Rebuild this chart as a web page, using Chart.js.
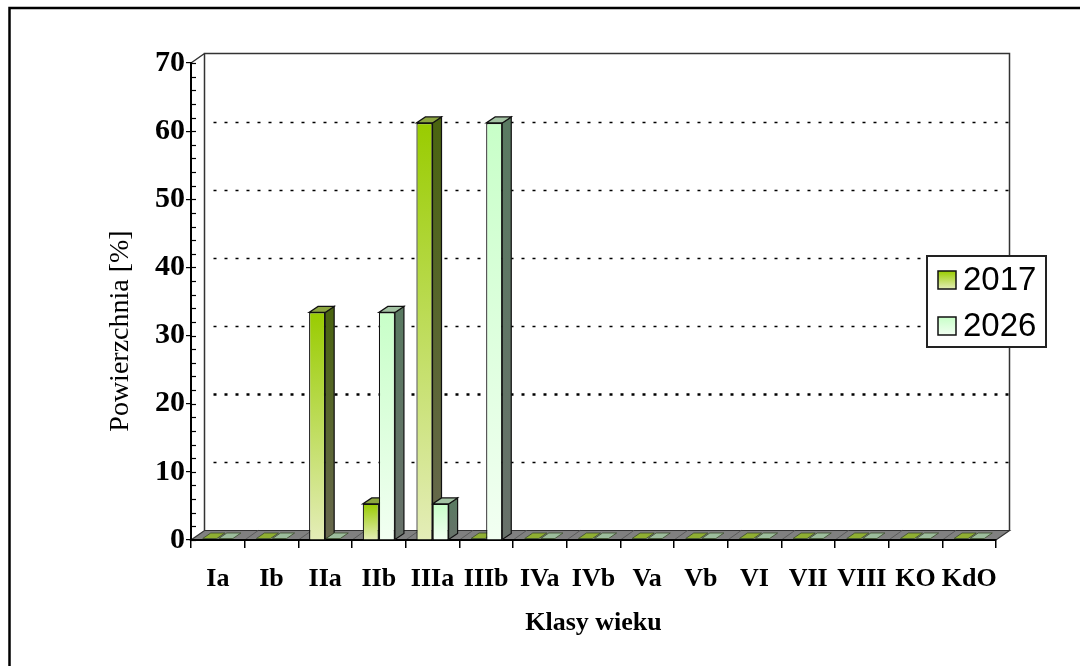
<!DOCTYPE html>
<html>
<head>
<meta charset="utf-8">
<script src="https://cdn.jsdelivr.net/npm/chart.js@4.4.0/dist/chart.umd.min.js"></script>
<style>
  html, body { margin: 0; padding: 0; background: #fff; }
  #wrap { width: 1080px; height: 666px; position: relative; }
</style>
</head>
<body>
<div id="wrap"><canvas id="c" width="1080" height="666"></canvas></div>
<script>
// Udział powierzchni klas wieku [%]
const categories = ['Ia', 'Ib', 'IIa', 'IIb', 'IIIa', 'IIIb', 'IVa', 'IVb', 'Va', 'Vb', 'VI', 'VII', 'VIII', 'KO', 'KdO'];
const values2017 = [0, 0, 33.4, 5.3, 61.2, 0, 0, 0, 0, 0, 0, 0, 0, 0, 0];
const values2026 = [0, 0, 0, 33.4, 5.3, 61.2, 0, 0, 0, 0, 0, 0, 0, 0, 0];
const seriesLabels = ['2017', '2026'];
const yTickValues = [0, 10, 20, 30, 40, 50, 60, 70];

// pseudo-3D depth of the walls/floor and of each bar
const WALL_DX = 13.5, WALL_DY = 9.5;
const BAR_DX = 9, BAR_DY = 6;

const looks = [
  { front: ['#99cc00', '#e4edb8'], side: ['#4a6410', '#68684f'], top: '#8ca640', flat: '#8fae32' },
  { front: ['#c8ffc8', '#f2fff2'], side: ['#5a7a62', '#68716a'], top: '#a3c3a3', flat: '#9cbc9c' }
];

function frontFill(ctx, i) {
  const chart = ctx.chart;
  if (!chart.chartArea || ctx.type !== 'data') return looks[i].front[0];
  const ys = chart.scales.y;
  const yTop = ys.getPixelForValue(ctx.raw);
  const yBase = ys.getPixelForValue(0);
  if (yBase - yTop < 1) return looks[i].front[0];
  const g = chart.ctx.createLinearGradient(0, yTop, 0, yBase);
  g.addColorStop(0, looks[i].front[0]);
  g.addColorStop(1, looks[i].front[1]);
  return g;
}

function poly(ctx, pts, fill, stroke, lw) {
  ctx.beginPath();
  ctx.moveTo(pts[0][0], pts[0][1]);
  for (let k = 1; k < pts.length; k++) ctx.lineTo(pts[k][0], pts[k][1]);
  ctx.closePath();
  if (fill) { ctx.fillStyle = fill; ctx.fill(); }
  if (stroke) { ctx.strokeStyle = stroke; ctx.lineWidth = lw || 1; ctx.stroke(); }
}

const scenery = {
  id: 'scenery',
  beforeDraw(chart) {
    const ctx = chart.ctx;
    const { left, right, top, bottom } = chart.chartArea;
    const ys = chart.scales.y;
    ctx.save();
    // outer frame
    ctx.strokeStyle = '#000';
    ctx.lineWidth = 2.5;
    ctx.beginPath();
    ctx.moveTo(9.5, 700);
    ctx.lineTo(9.5, 8);
    ctx.lineTo(1100, 8);
    ctx.stroke();

    // back wall
    const bl = left + WALL_DX, br = right + WALL_DX, bt = top - WALL_DY, bb = bottom - WALL_DY;
    ctx.strokeStyle = '#333';
    ctx.lineWidth = 1.5;
    ctx.beginPath();
    ctx.moveTo(bl, bb); ctx.lineTo(bl, bt); ctx.lineTo(br, bt); ctx.lineTo(br, bb);
    ctx.moveTo(left, top); ctx.lineTo(bl, bt);
    ctx.stroke();

    // dotted grid on the back wall
    ctx.strokeStyle = '#000';
    ctx.setLineDash([3, 8]);
    yTickValues.forEach(v => {
      if (v <= 0 || v >= 70) return;
      const y = Math.round(ys.getPixelForValue(v) - WALL_DY) + 0.5;
      ctx.lineWidth = v === 20 ? 2.5 : 1.5;
      ctx.beginPath();
      ctx.moveTo(bl + 9, y);
      ctx.lineTo(br, y);
      ctx.stroke();
    });
    ctx.setLineDash([]);

    // floor
    poly(ctx, [[left, bottom], [right, bottom], [br, bb], [bl, bb]], '#808080', '#333', 1.2);
    const xs = chart.scales.x;
    ctx.strokeStyle = '#5a5a5a';
    ctx.lineWidth = 1;
    for (let i = 1; i < categories.length; i++) {
      const x = (xs.getPixelForValue(i - 1) + xs.getPixelForValue(i)) / 2;
      ctx.beginPath();
      ctx.moveTo(x, bottom);
      ctx.lineTo(x + WALL_DX, bb);
      ctx.stroke();
    }
    ctx.restore();
  },
  beforeDatasetsDraw(chart) {
    const ctx = chart.ctx;
    ctx.save();
    chart.data.datasets.forEach((ds, i) => {
      const meta = chart.getDatasetMeta(i);
      meta.data.forEach(el => {
        const p = el.getProps(['x', 'y', 'base', 'width'], true);
        const x0 = p.x - p.width / 2, x1 = p.x + p.width / 2;
        const yt = Math.min(p.y, p.base), yb = p.base;
        if (yb - yt >= 1) {
          const g = ctx.createLinearGradient(0, yt, 0, yb);
          g.addColorStop(0, looks[i].side[0]);
          g.addColorStop(1, looks[i].side[1]);
          poly(ctx, [[x1, yt], [x1 + BAR_DX, yt - BAR_DY], [x1 + BAR_DX, yb - BAR_DY], [x1, yb]], g, '#111', 1.2);
          poly(ctx, [[x0, yt], [x1, yt], [x1 + BAR_DX, yt - BAR_DY], [x0 + BAR_DX, yt - BAR_DY]], looks[i].top, '#111', 1.2);
        } else {
          poly(ctx, [[x0 + 1, yb - 1.5], [x1 - 1, yb - 1.5], [x1 + BAR_DX - 2, yb - BAR_DY - 1], [x0 + BAR_DX, yb - BAR_DY - 1]], looks[i].flat, '#3a4a2a', 0.8);
        }
      });
    });
    ctx.restore();
  },
  afterDraw(chart) {
    const ctx = chart.ctx;
    const { left } = chart.chartArea;
    const ys = chart.scales.y;
    ctx.save();
    // inner (minor) ticks of the value axis
    ctx.strokeStyle = '#000';
    ctx.lineWidth = 1.2;
    for (let v = 0; v <= 70; v += 2) {
      const y = Math.round(ys.getPixelForValue(v)) + 0.5;
      ctx.beginPath();
      ctx.moveTo(left, y);
      ctx.lineTo(left + 5, y);
      ctx.stroke();
    }

    // value axis title
    ctx.save();
    ctx.translate(121, 331);
    ctx.rotate(-Math.PI / 2);
    ctx.fillStyle = '#000';
    ctx.font = '28px "Liberation Serif"';
    ctx.textAlign = 'center';
    ctx.textBaseline = 'middle';
    ctx.fillText('Powierzchnia [%]', 0, 0);
    ctx.restore();

    // legend
    const lx = 927, ly = 256, lw = 119, lh = 91;
    ctx.fillStyle = '#fff';
    ctx.fillRect(lx, ly, lw, lh);
    ctx.strokeStyle = '#222';
    ctx.lineWidth = 2;
    ctx.strokeRect(lx, ly, lw, lh);
    seriesLabels.forEach((label, i) => {
      const sy = 271 + i * 46;
      const g = ctx.createLinearGradient(0, sy, 0, sy + 18);
      g.addColorStop(0, looks[i].front[0]);
      g.addColorStop(1, looks[i].front[1]);
      ctx.fillStyle = g;
      ctx.fillRect(938, sy, 18, 18);
      ctx.strokeStyle = '#111';
      ctx.lineWidth = 1.5;
      ctx.strokeRect(938, sy, 18, 18);
      ctx.fillStyle = '#000';
      ctx.font = '33px "Liberation Sans"';
      ctx.textAlign = 'left';
      ctx.textBaseline = 'alphabetic';
      ctx.fillText(label, 963, sy + 19);
    });
    ctx.restore();
  }
};

new Chart(document.getElementById('c'), {
  type: 'bar',
  data: {
    labels: categories,
    datasets: [
      { label: seriesLabels[0], data: values2017, backgroundColor: c => frontFill(c, 0), borderColor: '#111', borderWidth: 1.2 },
      { label: seriesLabels[1], data: values2026, backgroundColor: c => frontFill(c, 1), borderColor: '#111', borderWidth: 1.2 }
    ]
  },
  options: {
    responsive: false,
    animation: false,
    events: [],
    layout: { padding: { left: 96, right: 84, top: 63, bottom: 26 } },
    datasets: { bar: { categoryPercentage: 0.6, barPercentage: 1.0 } },
    plugins: { legend: { display: false }, tooltip: { enabled: false } },
    scales: {
      x: {
        afterFit: s => { s.height = 100; },
        grid: { display: true, drawOnChartArea: false, drawTicks: true, tickLength: 8, offset: true, color: '#000', lineWidth: 1.5 },
        border: { display: true, color: '#000', width: 2 },
        ticks: { color: '#000', font: { family: 'Liberation Serif', weight: 'bold', size: 26 }, padding: 16, maxRotation: 0, autoSkip: false },
        title: { display: true, text: 'Klasy wieku', color: '#000', font: { family: 'Liberation Serif', weight: 'bold', size: 26 }, padding: { top: 0, bottom: 1 } }
      },
      y: {
        min: 0, max: 70,
        afterFit: s => { s.width = 95; },
        afterBuildTicks: s => { s.ticks = yTickValues.map(v => ({ value: v })); },
        grid: { display: true, drawOnChartArea: false, drawTicks: true, tickLength: 5, color: '#000', lineWidth: 1.2 },
        border: { display: true, color: '#000', width: 2 },
        ticks: { color: '#000', font: { family: 'Liberation Serif', weight: 'bold', size: 30 }, padding: 1 }
      }
    }
  },
  plugins: [scenery]
});
</script>
</body>
</html>
